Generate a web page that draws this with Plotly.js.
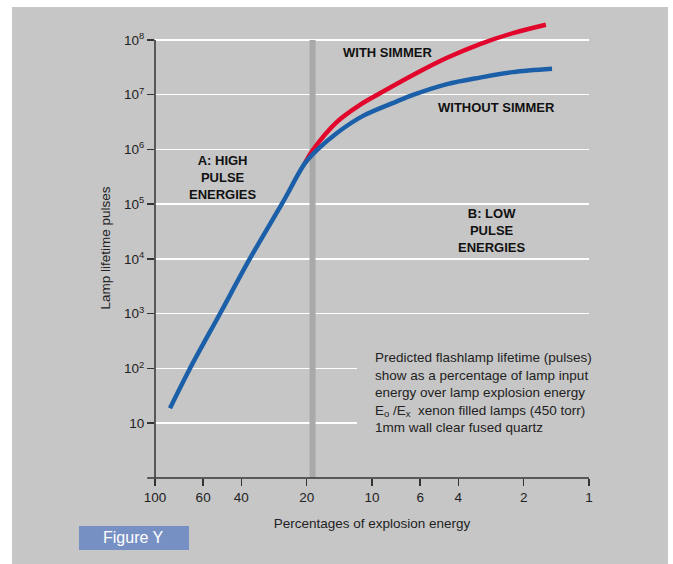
<!DOCTYPE html>
<html>
<head>
<meta charset="utf-8">
<script src="https://cdn.plot.ly/plotly-3.0.1.min.js"></script>
<style>
  html, body { margin: 0; padding: 0; background: #ffffff; width: 673px; height: 564px; overflow: hidden; }
  #chart { position: absolute; left: 12px; top: 7px; width: 656px; height: 557px; }
</style>
</head>
<body>
<div id="chart"></div>
<script>
// ---- data ----
const withoutSimmerX = [85.3, 69.0, 50.2, 36.5, 25.7, 20.4, 17.9, 14.5, 11.0, 7.67, 6.47, 4.51, 3.18, 2.24, 1.48];
const withoutSimmerY = [18.8, 100, 1000, 1.02e4, 1.1e5, 5.55e5, 9.8e5, 2.0e6, 4.1e6, 7.55e6, 9.9e6, 1.56e7, 2.05e7, 2.58e7, 2.96e7];
const withSimmerX = [20.4, 18.7, 14.5, 11.36, 9.19, 6.47, 4.51, 3.18, 2.24, 1.58];
const withSimmerY = [5.55e5, 9.8e5, 3.18e6, 6.5e6, 1.06e7, 2.29e7, 4.71e7, 8.4e7, 1.33e8, 1.89e8];
const xTickVals = [100, 60, 40, 20, 10, 6, 4, 2, 1];
const xTickText = ['100', '60', '40', '20', '10', '6', '4', '2', '1'];
const yTickVals = [10, 100, 1e3, 1e4, 1e5, 1e6, 1e7, 1e8];
const yTickText = ['10', '10<sup>2</sup>', '10<sup>3</sup>', '10<sup>4</sup>', '10<sup>5</sup>', '10<sup>6</sup>', '10<sup>7</sup>', '10<sup>8</sup>'];
const boundaryPct = [19.4, 18.2];   // grey boundary band between regions A and B
const yAxisSpan = [1, 1e8];

const BG = '#c6c6c6';
const FONT = 'Liberation Sans, Arial, Helvetica, sans-serif';
const INK = '#222222';

const traces = [
  { x: withSimmerX, y: withSimmerY, mode: 'lines', name: 'With simmer',
    line: { color: '#e2062c', width: 4.5, shape: 'spline', smoothing: 0.9 }, hoverinfo: 'skip' },
  { x: withoutSimmerX, y: withoutSimmerY, mode: 'lines', name: 'Without simmer',
    line: { color: '#1b5fa8', width: 4.5, shape: 'spline', smoothing: 0.9 }, hoverinfo: 'skip' }
];

const bold = { family: FONT, size: 13, color: '#111111', weight: 'bold' };
function lab(x, y, text, extra) {
  return Object.assign({ xref: 'paper', yref: 'paper', x: x, y: y, text: text, showarrow: false,
    xanchor: 'center', yanchor: 'middle', align: 'center', font: bold }, extra || {});
}

const layout = {
  width: 656, height: 557,
  margin: { l: 143, r: 79, t: 11, b: 86 },
  paper_bgcolor: BG, plot_bgcolor: BG,
  showlegend: false,
  font: { family: FONT, color: INK, size: 13 },
  xaxis: {
    type: 'log', range: [2, 0], autorange: false,
    tickmode: 'array', tickvals: xTickVals, ticktext: xTickText,
    ticks: 'outside', ticklen: 7, tickwidth: 1.5, tickcolor: '#333333',
    showgrid: false, showline: false, zeroline: false,
    tickfont: { family: FONT, size: 13.5, color: INK },
    title: { text: 'Percentages of explosion energy', font: { family: FONT, size: 13.5, color: INK }, standoff: 14 }
  },
  yaxis: {
    type: 'log', range: [0, 8.4], autorange: false,
    tickmode: 'array', tickvals: yTickVals, ticktext: yTickText,
    ticks: 'outside', ticklen: 7, tickwidth: 1.5, tickcolor: '#333333',
    showgrid: true, gridcolor: '#ffffff', gridwidth: 1.5,
    showline: false, zeroline: false,
    tickfont: { family: FONT, size: 13.5, color: INK },
    title: { text: 'Lamp lifetime pulses', font: { family: FONT, size: 13.5, color: INK }, standoff: 10 }
  },
  shapes: [
    // grey boundary band
    { type: 'rect', xref: 'x', yref: 'y', x0: boundaryPct[0], x1: boundaryPct[1], y0: yAxisSpan[0], y1: yAxisSpan[1],
      fillcolor: '#a9a9a9', line: { width: 0 }, layer: 'between' },
    // patch behind the note text (gridlines stop there)
    { type: 'rect', xref: 'paper', yref: 'y', x0: 0.4654, x1: 1.01, y0: 5, y1: 200,
      fillcolor: BG, line: { width: 0 }, layer: 'above' },
    // y axis line (from 1 to 10^8)
    { type: 'line', xref: 'paper', yref: 'y', x0: 0, x1: 0, y0: yAxisSpan[0], y1: yAxisSpan[1],
      line: { color: '#333333', width: 1.5 }, layer: 'above' },
    // x axis line (slightly extended left)
    { type: 'line', xref: 'paper', yref: 'paper', x0: -0.018, x1: 1, y0: 0, y1: 0,
      line: { color: '#333333', width: 1.5 }, layer: 'above' },
    // Figure Y box
    { type: 'rect', xref: 'paper', yref: 'paper', x0: -0.1751, x1: 0.0783, y0: -0.1565, y1: -0.1043,
      fillcolor: '#7790c4', line: { width: 0 }, layer: 'above' }
  ],
  annotations: [
    lab(0.5346, 0.926, 'WITH SIMMER'),
    lab(0.788, 0.8065, 'WITHOUT SIMMER'),
    lab(0.1567, 0.654, 'A: HIGH<br>PULSE<br>ENERGIES'),
    lab(0.7765, 0.539, 'B: LOW<br>PULSE<br>ENERGIES'),
    lab(0.5023, 0.185,
      'Predicted flashlamp lifetime (pulses)<br>show as a percentage of lamp input<br>energy over lamp explosion energy<br>E<sub>o</sub> /E<sub>x</sub>  xenon filled lamps (450 torr)<br>1mm wall clear fused quartz',
      { xanchor: 'left', align: 'left', font: { family: FONT, size: 13.5, color: INK } }),
    lab(-0.0484, -0.1304, 'Figure Y', { font: { family: FONT, size: 16, color: '#ffffff' } })
  ]
};

Plotly.newPlot('chart', traces, layout, { staticPlot: true, displayModeBar: false });
</script>
</body>
</html>
